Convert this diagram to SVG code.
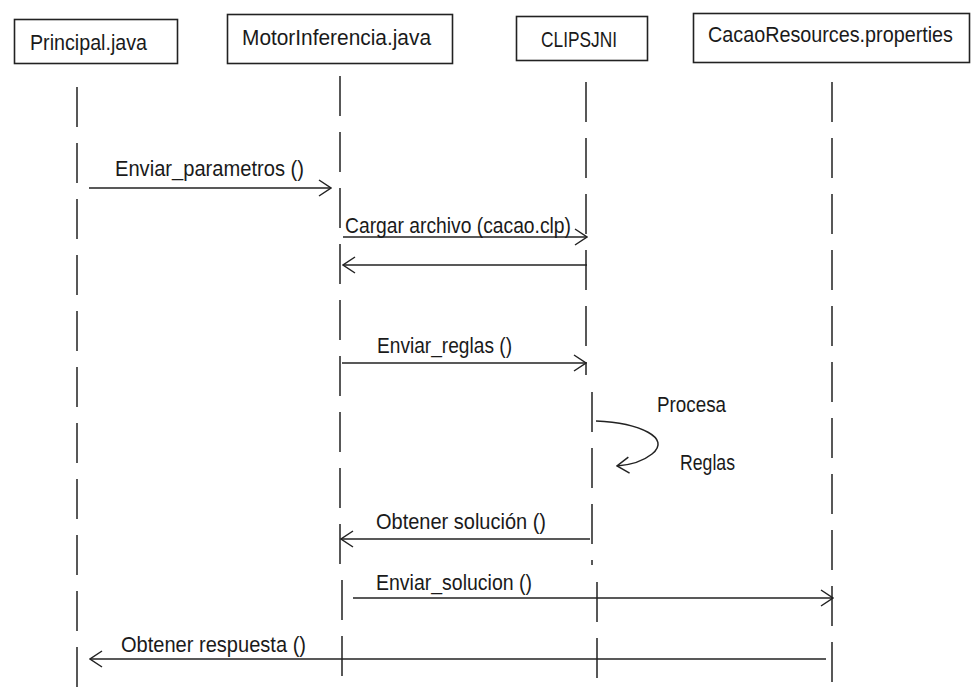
<svg xmlns="http://www.w3.org/2000/svg" width="971" height="688" viewBox="0 0 971 688">
<style>
.box{fill:#fff;stroke:#222;stroke-width:1.6}
.t{font-family:"Liberation Sans",Arial,sans-serif;font-size:22px;fill:#1a1a1a}
.life{fill:none;stroke:#222;stroke-width:1.5;stroke-dasharray:40 16}
.msg{fill:none;stroke:#222;stroke-width:1.5;marker-end:url(#open)}
</style>
<defs>
<marker id="open" viewBox="0 0 14 18" refX="13" refY="9" markerWidth="14" markerHeight="18" markerUnits="userSpaceOnUse" orient="auto">
<path d="M1,1 L13,9 L1,17" fill="none" stroke="#222" stroke-width="1.5"/>
</marker>
</defs>
<g id="principal">
<rect class="box" x="14.5" y="19.5" width="163" height="44"/>
<text class="t" x="30" y="50" textLength="117" lengthAdjust="spacingAndGlyphs">Principal.java</text>
</g>
<g id="motor">
<rect class="box" x="227.5" y="14.5" width="225" height="49"/>
<text class="t" x="242" y="45" textLength="189" lengthAdjust="spacingAndGlyphs">MotorInferencia.java</text>
</g>
<g id="clipsjni">
<rect class="box" x="516.5" y="16.5" width="131" height="44"/>
<text class="t" x="541" y="47" textLength="76" lengthAdjust="spacingAndGlyphs">CLIPSJNI</text>
</g>
<g id="cacao">
<rect class="box" x="693.5" y="13.5" width="276" height="49"/>
<text class="t" x="708" y="42" textLength="245" lengthAdjust="spacingAndGlyphs">CacaoResources.properties</text>
</g>
<g id="lifelines">
<path class="life" d="M77,87 V688"/>
<path class="life" d="M340,76 V570"/>
<path class="life" d="M342,580 V688"/>
<path class="life" d="M586,82 V375"/>
<path class="life" d="M592,392 V565"/>
<path class="life" d="M597,582 V688"/>
<path class="life" d="M832,82 V688"/>
</g>
<g id="connectors">
<path class="msg" d="M89,188 H331"/>
<path class="msg" d="M343,237 H587"/>
<path class="msg" d="M587,265 H343"/>
<path class="msg" d="M342,363 H586"/>
<path class="msg" d="M596,421 C640,423 672,438 652,454 C642,462 630,465 617,466"/>
<path class="msg" d="M590,539 H341"/>
<path class="msg" d="M353,598 H833"/>
<path class="msg" d="M826,659 H90"/>
</g>
<g id="labels">
<text class="t" x="115" y="176" textLength="189" lengthAdjust="spacingAndGlyphs">Enviar_parametros ()</text>
<text class="t" x="345" y="233" textLength="226" lengthAdjust="spacingAndGlyphs">Cargar archivo (cacao.clp)</text>
<text class="t" x="377" y="353" textLength="135" lengthAdjust="spacingAndGlyphs">Enviar_reglas ()</text>
<text class="t" x="657" y="412" textLength="69" lengthAdjust="spacingAndGlyphs">Procesa</text>
<text class="t" x="680" y="470" textLength="55" lengthAdjust="spacingAndGlyphs">Reglas</text>
<text class="t" x="376" y="529" textLength="170" lengthAdjust="spacingAndGlyphs">Obtener solución ()</text>
<text class="t" x="376" y="590" textLength="156" lengthAdjust="spacingAndGlyphs">Enviar_solucion ()</text>
<text class="t" x="121" y="652" textLength="185" lengthAdjust="spacingAndGlyphs">Obtener respuesta ()</text>
</g>
</svg>
